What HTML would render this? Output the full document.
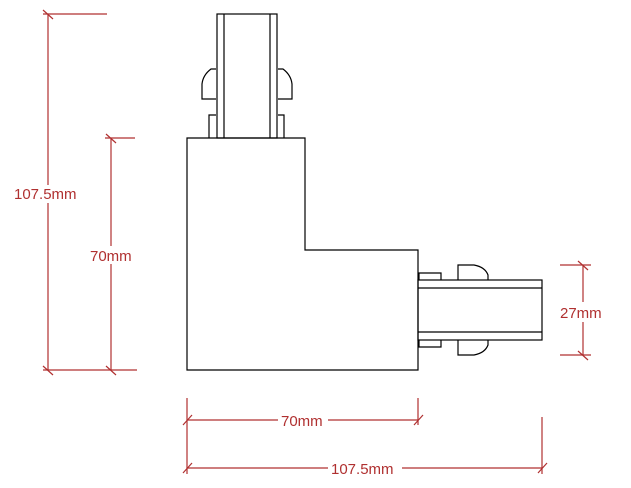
<!DOCTYPE html>
<html><head><meta charset="utf-8"><style>
html,body{margin:0;padding:0;background:#fff;width:631px;height:488px;overflow:hidden}
svg{display:block}
text{font-family:"Liberation Sans",sans-serif;font-size:15px;fill:#b03030}
</style></head><body>
<svg width="631" height="488" viewBox="0 0 631 488" xmlns="http://www.w3.org/2000/svg">
<g fill="none" stroke="#000" stroke-width="1.2">
<!-- top connector -->
<rect x="217" y="14" width="60" height="124"/>
<line x1="224" y1="14" x2="224" y2="138"/>
<line x1="270" y1="14" x2="270" y2="138"/>
<path d="M216 69 L211 69 Q203 75 202 84 L202 99 L216 99"/>
<path d="M278 69 L283 69 Q291 75 292 84 L292 99 L278 99"/>
<path d="M216 115 L209 115 L209 138"/>
<path d="M278 115 L284 115 L284 138"/>
<!-- L body -->
<path d="M187 138 L305 138 L305 250 L418 250 L418 370 L187 370 Z"/>
<!-- right connector -->
<rect x="418" y="280" width="124" height="60"/>
<line x1="418" y1="288" x2="542" y2="288"/>
<line x1="418" y1="332" x2="542" y2="332"/>
<path d="M419 280 L419 273 L441 273 L441 280"/>
<path d="M419 340 L419 347 L441 347 L441 340"/>
<path d="M458 280 L458 265 L474 265 Q485 267 488 275 L488 280"/>
<path d="M458 340 L458 355 L474 355 Q485 353 488 345 L488 340"/>
</g>
<g stroke="#b03030" stroke-width="1.2" fill="none">
<!-- left 107.5 -->
<line x1="48" y1="14" x2="48" y2="185"/>
<line x1="48" y1="203" x2="48" y2="370"/>
<line x1="43" y1="14" x2="107" y2="14"/>
<line x1="43" y1="370" x2="137" y2="370"/>
<line x1="43" y1="10" x2="53" y2="19"/><line x1="43" y1="366" x2="53" y2="375"/>
<!-- left 70 -->
<line x1="111" y1="138" x2="111" y2="246"/>
<line x1="111" y1="264" x2="111" y2="370"/>
<line x1="105" y1="138" x2="135" y2="138"/>
<line x1="106" y1="134" x2="116" y2="143"/><line x1="106" y1="366" x2="116" y2="375"/>
<!-- 27 -->
<line x1="583" y1="265" x2="583" y2="302"/>
<line x1="583" y1="322" x2="583" y2="355"/>
<line x1="560" y1="265" x2="591" y2="265"/>
<line x1="560" y1="355" x2="591" y2="355"/>
<line x1="578" y1="261" x2="588" y2="270"/><line x1="578" y1="351" x2="588" y2="360"/>
<!-- bottom 70 -->
<line x1="187" y1="398" x2="187" y2="474"/>
<line x1="418" y1="398" x2="418" y2="425"/>
<line x1="187" y1="420" x2="278" y2="420"/>
<line x1="328" y1="420" x2="418" y2="420"/>
<line x1="183" y1="425" x2="192" y2="415"/><line x1="414" y1="425" x2="423" y2="415"/>
<!-- bottom 107.5 -->
<line x1="542" y1="417" x2="542" y2="474"/>
<line x1="187" y1="468" x2="328" y2="468"/>
<line x1="402" y1="468" x2="542" y2="468"/>
<line x1="183" y1="473" x2="192" y2="463"/><line x1="538" y1="473" x2="547" y2="463"/>
</g>
<text x="14" y="199">107.5mm</text>
<text x="90" y="261">70mm</text>
<text x="560" y="318">27mm</text>
<text x="281" y="426">70mm</text>
<text x="331" y="474">107.5mm</text>
</svg>
</body></html>
